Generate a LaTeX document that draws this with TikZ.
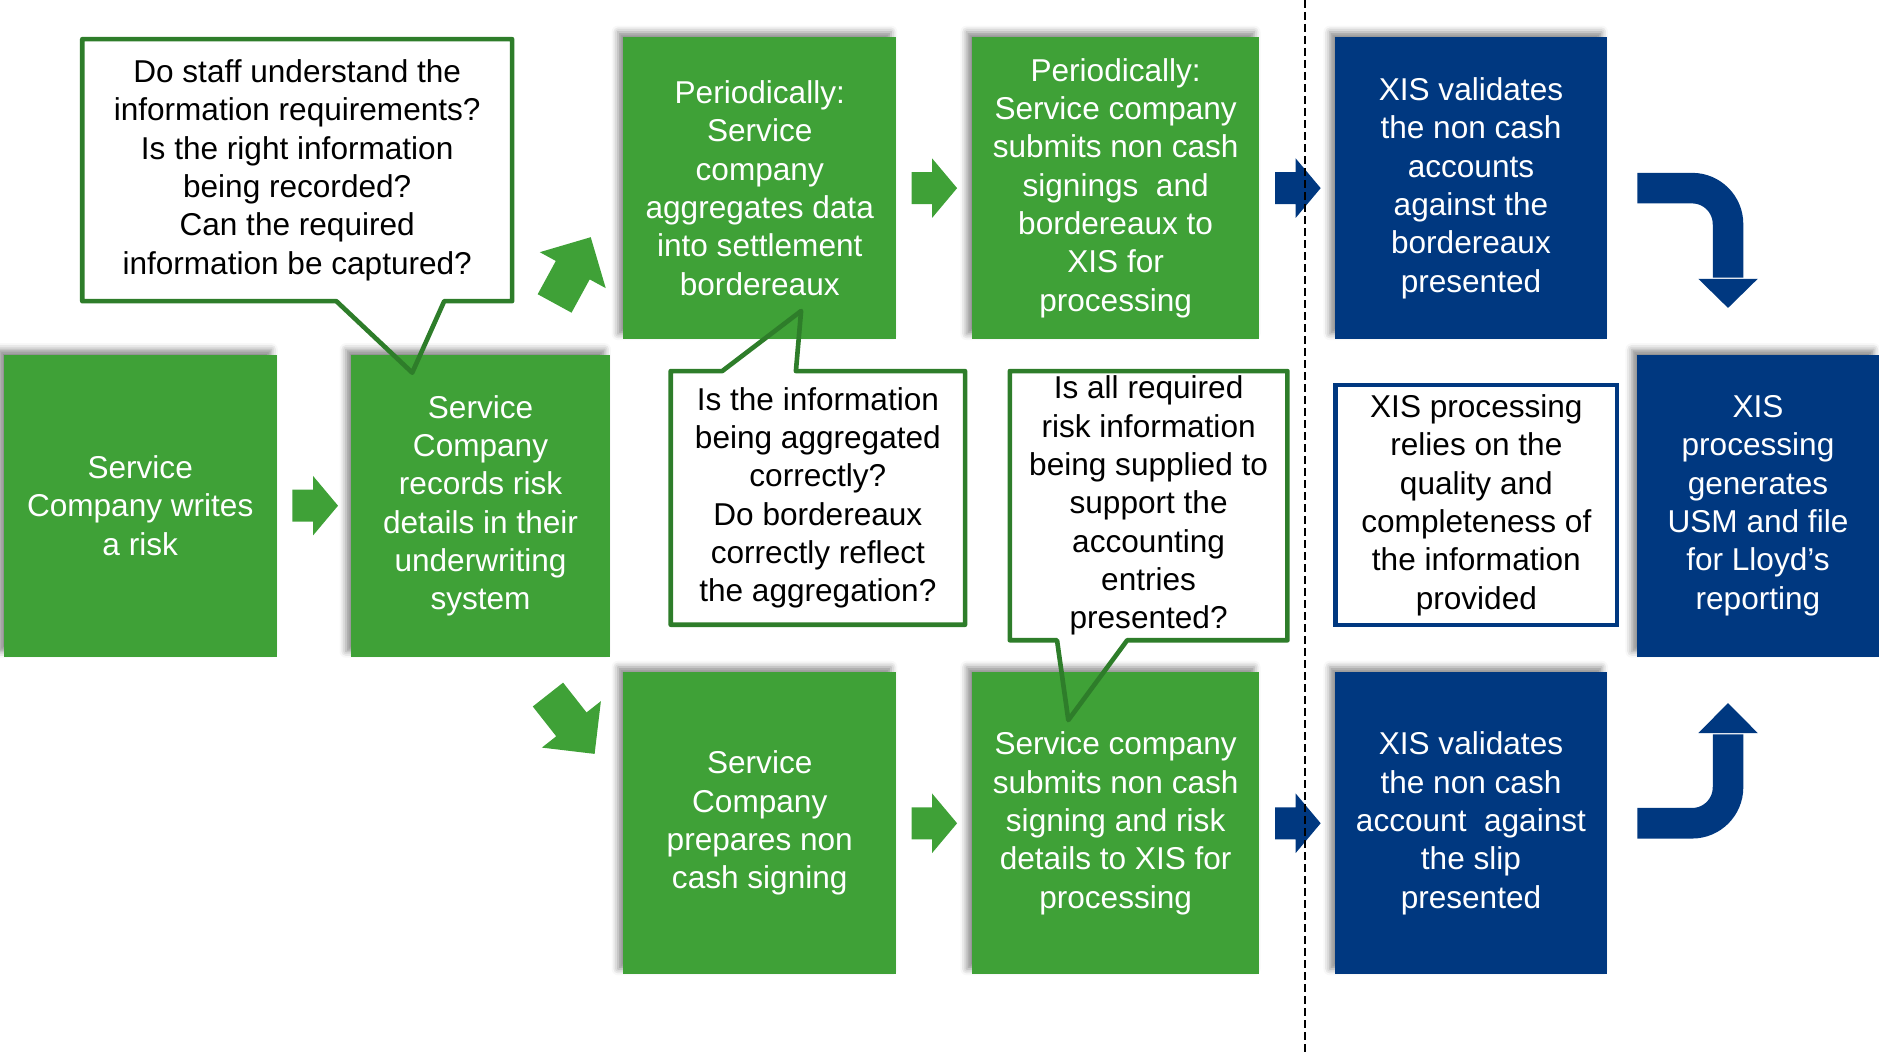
\documentclass[tikz,border=0pt]{standalone}
\usepackage{fontspec}
\setmainfont{Liberation Sans}
\usepackage{tikz}
\usetikzlibrary{positioning,calc,shapes.arrows,shadows.blur}
\usepackage{color}
\definecolor{xisGreen}  {RGB}{63,161,55}
\definecolor{xisDkGreen}{RGB}{46,125,42}
\definecolor{xisBlue}   {RGB}{0,56,128}

\begin{document}
\begin{tikzpicture}
[x=0.02cm, y=-0.02cm,
  every node/.style = { font=\fontsize{15}{18.2}\selectfont, align=center, inner sep=0pt },
  gbox/.style = { fill=xisGreen, text=white, minimum height=5.04cm,
                  blur shadow={shadow xshift=-2.5pt, shadow yshift=2.5pt, shadow blur radius=3pt, shadow opacity=45} },
  bbox/.style = { gbox, fill=xisBlue },
  note/.style = { text=black },
  gline/.style = { draw=xisDkGreen, line width=2.2pt, line join=round },
  garrow/.style = { single arrow, fill=xisGreen, inner ysep=0.26cm, minimum height=0.76cm, minimum width=0.98cm,
                    single arrow head extend=0.23cm, single arrow tip angle=100 },
  barrow/.style = { garrow, fill=xisBlue },
  darrow/.style = { single arrow, fill=xisGreen, inner ysep=0.315cm, minimum height=1.26cm, minimum width=1.24cm,
                    single arrow head extend=0.305cm, single arrow tip angle=90, anchor=tip },
  bshaft/.style = { draw=xisBlue, line width=0.51cm, rounded corners=0.6cm }
]

\useasboundingbox (0,0) rectangle (1568,878);

% Service company boxes:
\node[gbox, minimum width=4.56cm] (writes)     at (117,422)  {Service\\Company writes\\a risk};
\node[gbox, minimum width=4.32cm] (records)    at (401,422)  {Service\\Company\\records risk\\details in their\\underwriting\\system};
\node[gbox, minimum width=4.56cm] (aggregates) at (634,157)  {Periodically:\\Service\\company\\aggregates data\\into settlement\\bordereaux};
\node[gbox, minimum width=4.80cm] (submitsB)   at (931,157)  {Periodically:\\Service company\\submits non cash\\signings~ and\\bordereaux to\\XIS for\\processing};
\node[gbox, minimum width=4.56cm] (prepares)   at (634,687)  {Service\\Company\\prepares non\\cash signing};
\node[gbox, minimum width=4.80cm] (submitsS)   at (931,687)  {Service company\\submits non cash\\signing and risk\\details to XIS for\\processing};

% XIS boxes:
\node[bbox, minimum width=4.54cm] (validatesB) at (1227.5,157) {XIS validates\\the non cash\\accounts\\against the\\bordereaux\\presented};
\node[bbox, minimum width=4.54cm] (validatesS) at (1227.5,687) {XIS validates\\the non cash\\account~ against\\the slip\\presented};
\node[bbox, minimum width=4.04cm] (generates)  at (1467,422)   {XIS\\processing\\generates\\USM and file\\for Lloyd’s\\reporting};

% Questions:
\node[note, minimum width=7.16cm, minimum height=4.36cm] (qStaff) at (248,142)
  {Do staff understand the\\information requirements?\\Is the right information\\being recorded?\\Can the required\\information be captured?};
\coordinate (tipStaff) at (344,311);
\draw[gline] (qStaff.south west) -- (qStaff.north west) -- (qStaff.north east) -- (qStaff.south east)
  -- ($(qStaff.south west)+(302,0)$) -- (tipStaff) -- ($(qStaff.south west)+(212,0)$) -- cycle;

\node[note, minimum width=4.9cm, minimum height=4.22cm] (qAggr) at (682.5,415.5)
  {Is the information\\being aggregated\\correctly?\\Do bordereaux\\correctly reflect\\the aggregation?};
\coordinate (tipAggr) at (668.5,259.5);
\draw[gline] (qAggr.north west) -- ($(qAggr.north west)+(43,0)$) -- (tipAggr) -- ($(qAggr.north west)+(104.5,0)$)
  -- (qAggr.north east) -- (qAggr.south east) -- (qAggr.south west) -- cycle;

\node[note, minimum width=4.62cm, minimum height=4.48cm] (qRisk) at (958.5,422)
  {Is all required\\risk information\\being supplied to\\support the\\accounting\\entries\\presented?};
\coordinate (tipRisk) at (891.5,600.9);
\draw[gline] (qRisk.south west) -- (qRisk.north west) -- (qRisk.north east) -- (qRisk.south east)
  -- ($(qRisk.south west)+(97.9,0)$) -- (tipRisk) -- ($(qRisk.south west)+(39.4,0)$) -- cycle;

\node[note, draw=xisBlue, line width=2pt, minimum width=4.7cm, minimum height=4.0cm] (qQuality) at (1232,421.5)
  {XIS processing\\relies on the\\quality and\\completeness of\\the information\\provided};

% Block arrows:
\node[garrow, right=0.248cm of writes]     (arWrites) {};
\node[garrow, right=0.24cm of aggregates]  (arAggr)   {};
\node[garrow, right=0.24cm of prepares]    (arPrep)   {};
\node[barrow, right=0.248cm of submitsB]   (arSubB)   {};
\node[barrow, right=0.248cm of submitsS]   (arSubS)   {};
\node[darrow, rotate=61.4]  (arUp)   at (493.2,197.5) {};
\node[darrow, rotate=-51.8] (arDown) at (496.5,629.5) {};

% Bent arrows into XIS processing:
\coordinate (headTop) at ($(generates.north)+(-25,-63)$);
\draw[bshaft] ($(validatesB.east)+(25,0)$) -| ($(headTop)+(0,-1)$);
\fill[xisBlue] ($(headTop)+(-24.8,0)$) -- ($(headTop)+(24.8,0)$) -- ($(headTop)+(0,24.3)$) -- cycle;

\coordinate (headBot) at ($(generates.south)+(-25,63.4)$);
\draw[bshaft] ($(validatesS.east)+(25,0)$) -| ($(headBot)+(0,1)$);
\fill[xisBlue] ($(headBot)+(-24.8,0)$) -- ($(headBot)+(24.8,0)$) -- ($(headBot)+(0,-25)$) -- cycle;

% Divider:
\draw[line width=0.85pt, dash pattern=on 3.8pt off 1.9pt] (1089,0) -- (1089,878);
\end{tikzpicture}
\end{document}
